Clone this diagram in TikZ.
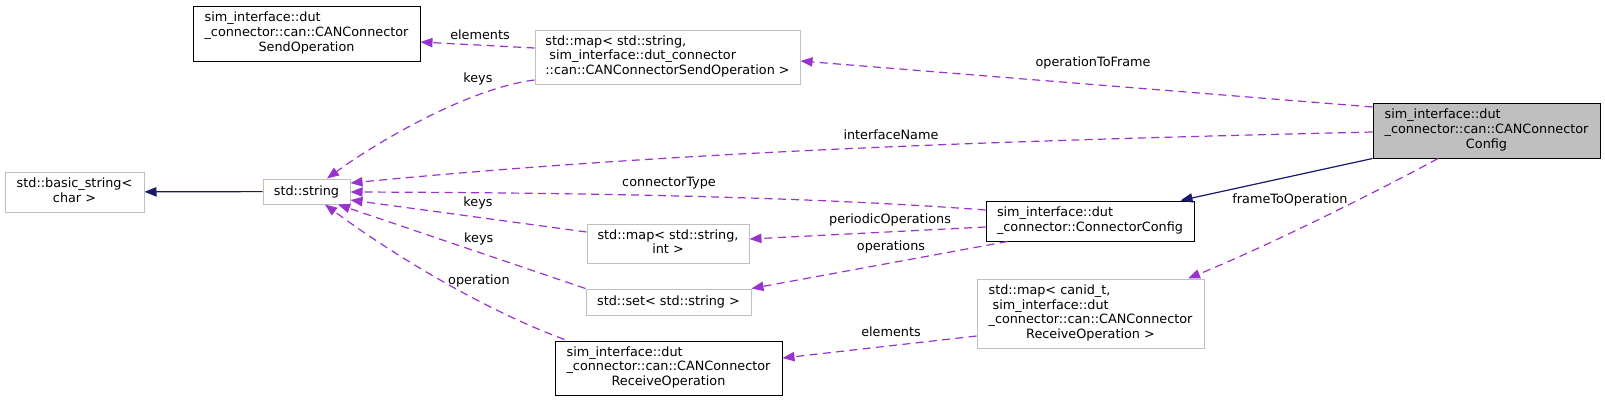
\documentclass[tikz,border=0pt]{standalone}
\usepackage{fontspec}
\setmainfont{DejaVu Sans}
\usepackage{tikz}
\usetikzlibrary{arrows.meta,calc}
\definecolor{doxpurple}{HTML}{9A32CD}
\definecolor{doxnavy}{HTML}{191970}
\definecolor{doxgrey}{HTML}{BFBFBF}
\newcommand{\dxfont}{\fontsize{9.6}{11}\selectfont}
\newcommand{\clsname}[1]{\begin{tabular}{@{}l@{}}#1\end{tabular}}
\newcommand{\lastln}[1]{\multicolumn{1}{@{}c@{}}{#1}}
\tikzset{
  klass/.style={rectangle,draw=black,line width=0.75pt,fill=white,inner sep=0pt,font=\dxfont},
  extklass/.style={klass,draw=doxgrey},
  curklass/.style={klass,fill=doxgrey},
  sz/.style 2 args={minimum width=#1*0.75pt,minimum height=#2*0.75pt},
  dep/.style={-{Triangle[length=9pt,width=7pt]},draw=doxpurple,line width=0.9pt,dash pattern=on 6pt off 4pt},
  inherit/.style={-{Triangle[length=9pt,width=7pt]},draw=doxnavy,line width=0.9pt},
  lbl/.style={font=\dxfont,inner sep=0pt,text=black}
}
\begin{document}
\begin{tikzpicture}[x=0.75pt,y=-0.75pt]
  \useasboundingbox (0,0) rectangle (1605,401);
  % classes
  \node[klass,sz={227}{55}] (sendop) at (306.5,33.5) {\clsname{sim\_interface::dut\\\_connector::can::CANConnector\\\lastln{SendOperation}}};
  \node[extklass,sz={265}{54}] (mapsend) at (667.5,57) {\clsname{std::map< std::string,\\~sim\_interface::dut\_connector\\::can::CANConnectorSendOperation >}};
  \node[extklass,sz={139}{40}] (basicstr) at (74.5,192) {\clsname{std::basic\_string<\\\lastln{char >}}};
  \node[extklass,sz={87}{25}] (stdstr) at (306.5,191.5) {std::string};
  \node[curklass,sz={227}{55}] (cfg) at (1486.5,130.5) {\clsname{sim\_interface::dut\\\_connector::can::CANConnector\\\lastln{Config}}};
  \node[klass,sz={208}{40}] (conncfg) at (1090,221) {\clsname{sim\_interface::dut\\\_connector::ConnectorConfig}};
  \node[extklass,sz={162}{39}] (mapint) at (668,243.5) {\clsname{std::map< std::string,\\\lastln{int >}}};
  \node[extklass,sz={165}{26}] (setstr) at (668.5,302) {std::set< std::string >};
  \node[klass,sz={227}{54}] (recvop) at (668.5,368) {\clsname{sim\_interface::dut\\\_connector::can::CANConnector\\\lastln{ReceiveOperation}}};
  \node[extklass,sz={227}{69}] (mapcan) at (1090.5,313.5) {\clsname{std::map< canid\_t,\\~sim\_interface::dut\\\_connector::can::CANConnector\\\lastln{ReceiveOperation >}}};
  % usage
  \draw[dep] ($(mapsend.west)+(0,-9)$) -- node[lbl,xshift=1.9pt,yshift=7.9pt]{elements} ($(sendop.east)+(0,8.5)$);
  \draw[dep] ($(mapsend.west)+(0,23)$) .. controls (470,88) and (380,140) .. ($(stdstr.north)+(20.5,0)$) node[lbl,pos=0.5,xshift=38.6pt,yshift=29.2pt]{keys};
  \draw[dep] ($(cfg.west)+(0,-23.5)$) -- node[lbl,xshift=4.9pt,yshift=15.75pt]{operationToFrame} ($(mapsend.east)+(0,4)$);
  \draw[dep] ($(cfg.west)+(0,1.5)$) .. controls (1033,140) and (690,150) .. ($(stdstr.east)+(0,-8.5)$) node[lbl,pos=0.5,xshift=22.1pt,yshift=9.75pt]{interfaceName};
  \draw[dep] ($(conncfg.west)+(0,-11)$) .. controls (880,202) and (700,193) .. ($(stdstr.east)+(0,0.5)$) node[lbl,pos=0.5,xshift=-67.9pt,yshift=11.5pt]{connectorType};
  \draw[dep] ($(mapint.west)+(0,-11.5)$) -- node[lbl,xshift=7.1pt,yshift=9.75pt]{keys} ($(stdstr.east)+(0,8.5)$);
  \draw[dep] ($(conncfg.west)+(0,6)$) -- node[lbl,xshift=16.9pt,yshift=9.75pt]{periodicOperations} ($(mapint.east)+(0,-4.5)$);
  \draw[dep] ($(conncfg.south west)+(22,0)$) -- node[lbl,xshift=8.6pt,yshift=13.5pt]{operations} (setstr.north east);
  \draw[dep] (setstr.north west) -- node[lbl,xshift=12.75pt,yshift=5.6pt]{keys} ($(stdstr.south)+(31.5,0)$);
  \draw[dep] ($(recvop.north west)+(10,-1)$) .. controls (490,312) and (400,260) .. ($(stdstr.south)+(18.5,0)$) node[lbl,pos=0.5,xshift=25.5pt,yshift=1.2pt]{operation};
  \draw[dep] ($(cfg.south)+(-48.5,0)$) .. controls (1380,190) and (1270,245) .. ($(mapcan.north)+(97.5,0)$) node[lbl,pos=0.5,xshift=-24pt,yshift=13.4pt]{frameToOperation};
  \draw[dep] ($(mapcan.west)+(0,22.5)$) -- node[lbl,xshift=8.6pt,yshift=11.25pt]{elements} ($(recvop.east)+(0,-10)$);
  % inheritance
  \draw[inherit] (stdstr) -- (basicstr);
  \draw[inherit] (cfg.south west) -- ($(conncfg.north east)+(-14,0)$);
\end{tikzpicture}
\end{document}
